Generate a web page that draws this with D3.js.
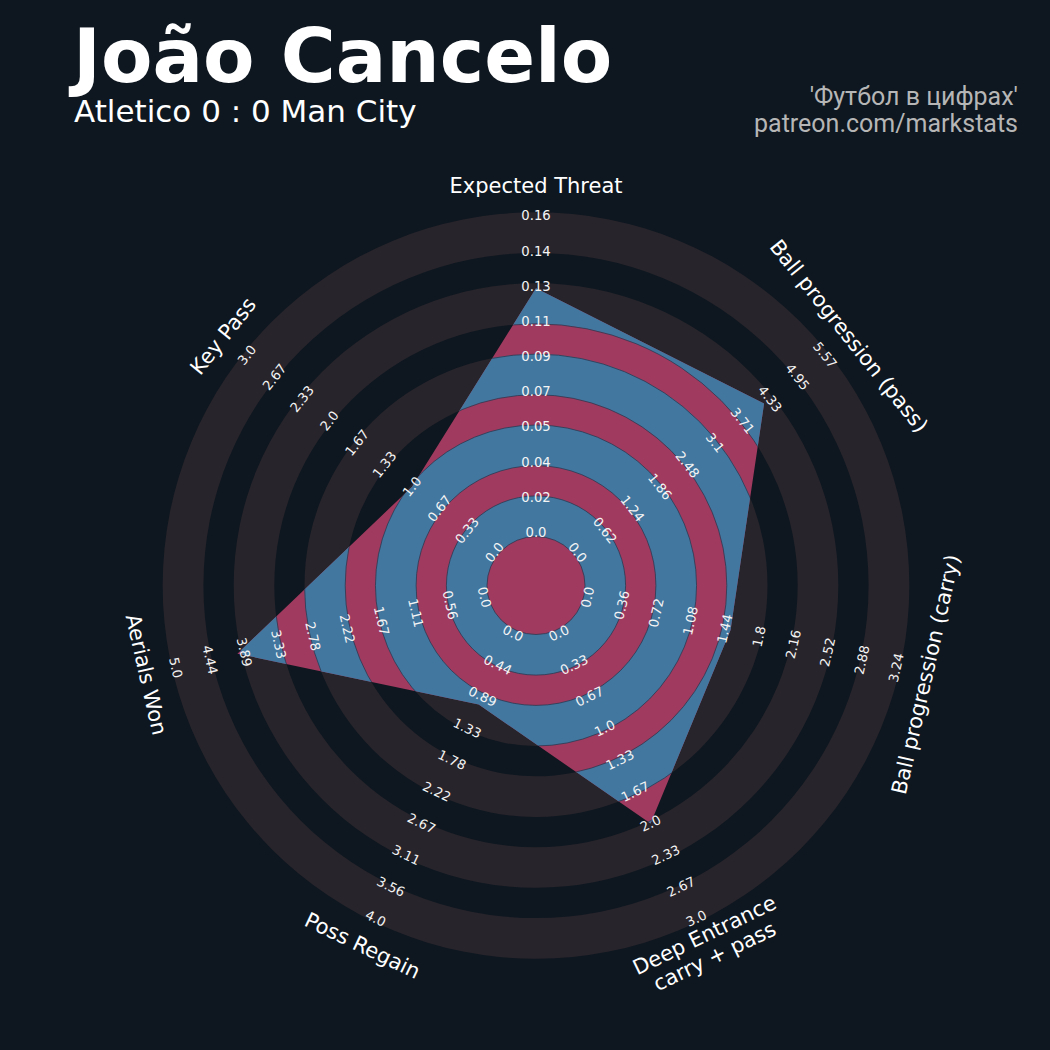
<!DOCTYPE html>
<html>
<head>
<meta charset="utf-8">
<script src="https://cdn.jsdelivr.net/npm/d3@7"></script>
<style>
  html, body { margin: 0; padding: 0; background: #0e1720; }
  svg { display: block; }
</style>
</head>
<body>
<svg id="chart" width="1050" height="1050"></svg>
<script>
// ---------------- DATA ----------------
const params = ["Expected Threat", "Ball progression (pass)", "Ball progression (carry)",
                "Deep Entrance\ncarry + pass", "Poss Regain", "Aerials Won", "Key Pass"];
const values = [0.125, 4.2, 1.5, 2.0, 1.0, 4.0, 1.0];
const lows   = [0, 0, 0, 0, 0, 0, 0];
const highs  = [0.162, 5.57, 3.24, 3.0, 4.0, 5.0, 3.0];

const ticksXT    = ["0.0","0.02","0.04","0.05","0.07","0.09","0.11","0.13","0.14","0.16"];
const ticksPass  = ["0.0","0.62","1.24","1.86","2.48","3.1","3.71","4.33","4.95","5.57"];
const ticksCarry = ["0.0","0.36","0.72","1.08","1.44","1.8","2.16","2.52","2.88","3.24"];
const ticksDeep  = ["0.0","0.33","0.67","1.0","1.33","1.67","2.0","2.33","2.67","3.0"];
const ticksPoss  = ["0.0","0.44","0.89","1.33","1.78","2.22","2.67","3.11","3.56","4.0"];
const ticksAer   = ["0.0","0.56","1.11","1.67","2.22","2.78","3.33","3.89","4.44","5.0"];
const ticksKey   = ["0.0","0.33","0.67","1.0","1.33","1.67","2.0","2.33","2.67","3.0"];
const tickLabels = [ticksXT, ticksPass, ticksCarry, ticksDeep, ticksPoss, ticksAer, ticksKey];

const title = "João Cancelo";
const subtitle = "Atletico 0 : 0 Man City";
const creditLines = ["'Футбол в цифрах'", "patreon.com/markstats"];

// ---------------- LAYOUT ----------------
const W = 1050, H = 1050;
const cx = 536, cy = 585.5;
const rMin = 53, rMax = 369.6;       // value range mapping
const centerR = 49, ringW = 40.6, ringStep = 70.9, numRings = 4;
const labelR = 400;

const colBg = "#0e1720", colRing = "#28242b", colPink = "#a13a5f", colBlue = "#4277a0";

const svg = d3.select("#chart");
svg.append("rect").attr("width", W).attr("height", H).attr("fill", colBg);

const n = params.length;
const angleScale = d3.scaleLinear().domain([0, n]).range([0, 2 * Math.PI]);
const radialScales = params.map((p, i) =>
  d3.scaleLinear().domain([lows[i], highs[i]]).range([rMin, rMax]));

function pt(angle, r) { return [cx + r * Math.sin(angle), cy - r * Math.cos(angle)]; }

const g = svg.append("g");

// ring bands
const ringData = d3.range(numRings + 1).map(i => ({
  inner: centerR + i * ringStep, outer: centerR + i * ringStep + ringW }));
const arc = d3.arc().startAngle(0).endAngle(2 * Math.PI);

g.append("g").attr("transform", `translate(${cx},${cy})`)
  .selectAll("path").data(ringData).join("path")
  .attr("d", d => arc({innerRadius: d.inner, outerRadius: d.outer}))
  .attr("fill", colRing);

// radar polygon
const verts = values.map((v, i) => pt(angleScale(i), radialScales[i](v)));
const line = d3.line().curve(d3.curveLinearClosed);
const polyPath = line(verts);

svg.append("defs").append("clipPath").attr("id", "polyClip")
  .append("path").attr("d", polyPath);

g.append("path").attr("d", polyPath).attr("fill", colPink);

g.append("g").attr("clip-path", "url(#polyClip)")
  .append("g").attr("transform", `translate(${cx},${cy})`)
  .selectAll("path").data(ringData).join("path")
  .attr("d", d => arc({innerRadius: d.inner, outerRadius: d.outer}))
  .attr("fill", colBlue)
  .attr("stroke", "#2c3a52").attr("stroke-width", 0.8);

// range labels
function rot(angleDeg) {
  return (angleDeg > 90 && angleDeg < 270) ? angleDeg - 180 : angleDeg;
}
params.forEach((p, i) => {
  const a = angleScale(i), deg = a * 180 / Math.PI;
  const labs = tickLabels[i];
  labs.forEach((t, k) => {
    const val = lows[i] + k * (highs[i] - lows[i]) / (labs.length - 1);
    const [x, y] = pt(a, radialScales[i](val));
    g.append("text")
      .attr("transform", `translate(${x},${y}) rotate(${rot(deg)})`)
      .attr("text-anchor", "middle").attr("dominant-baseline", "central")
      .attr("font-family", "DejaVu Sans").attr("font-size", 13.2)
      .attr("fill", "#f4f4f4").text(t);
  });
});

// param labels
params.forEach((p, i) => {
  const a = angleScale(i), deg = a * 180 / Math.PI;
  const [x, y] = pt(a, labelR);
  const lines = p.split("\n");
  const lg = g.append("g").attr("transform", `translate(${x},${y}) rotate(${rot(deg)})`);
  const txt = lg.append("text")
    .attr("text-anchor", "middle").attr("dominant-baseline", "central")
    .attr("font-family", "DejaVu Sans").attr("font-size", 21)
    .attr("fill", "#ffffff");
  lines.forEach((ln, k) => {
    txt.append("tspan").attr("x", 0)
      .attr("y", (k - (lines.length - 1) / 2) * 23.5)
      .text(ln);
  });
});

// titles (one text block: title + subtitle)
const head = svg.append("text").attr("font-family", "DejaVu Sans").attr("fill", "#ffffff");
head.append("tspan").attr("x", 73).attr("y", 82)
  .attr("font-weight", "bold").attr("font-size", 75).text(title);
head.append("tspan").attr("x", 74).attr("y", 122)
  .attr("font-size", 31).text(subtitle);

const credit = svg.append("text").attr("text-anchor", "end")
  .attr("font-family", "Roboto").attr("font-size", 25).attr("fill", "#b6b6b6");
creditLines.forEach((t, k) => {
  credit.append("tspan").attr("x", 1018).attr("y", 105 + k * 26.5).text(t);
});
</script>
</body>
</html>
